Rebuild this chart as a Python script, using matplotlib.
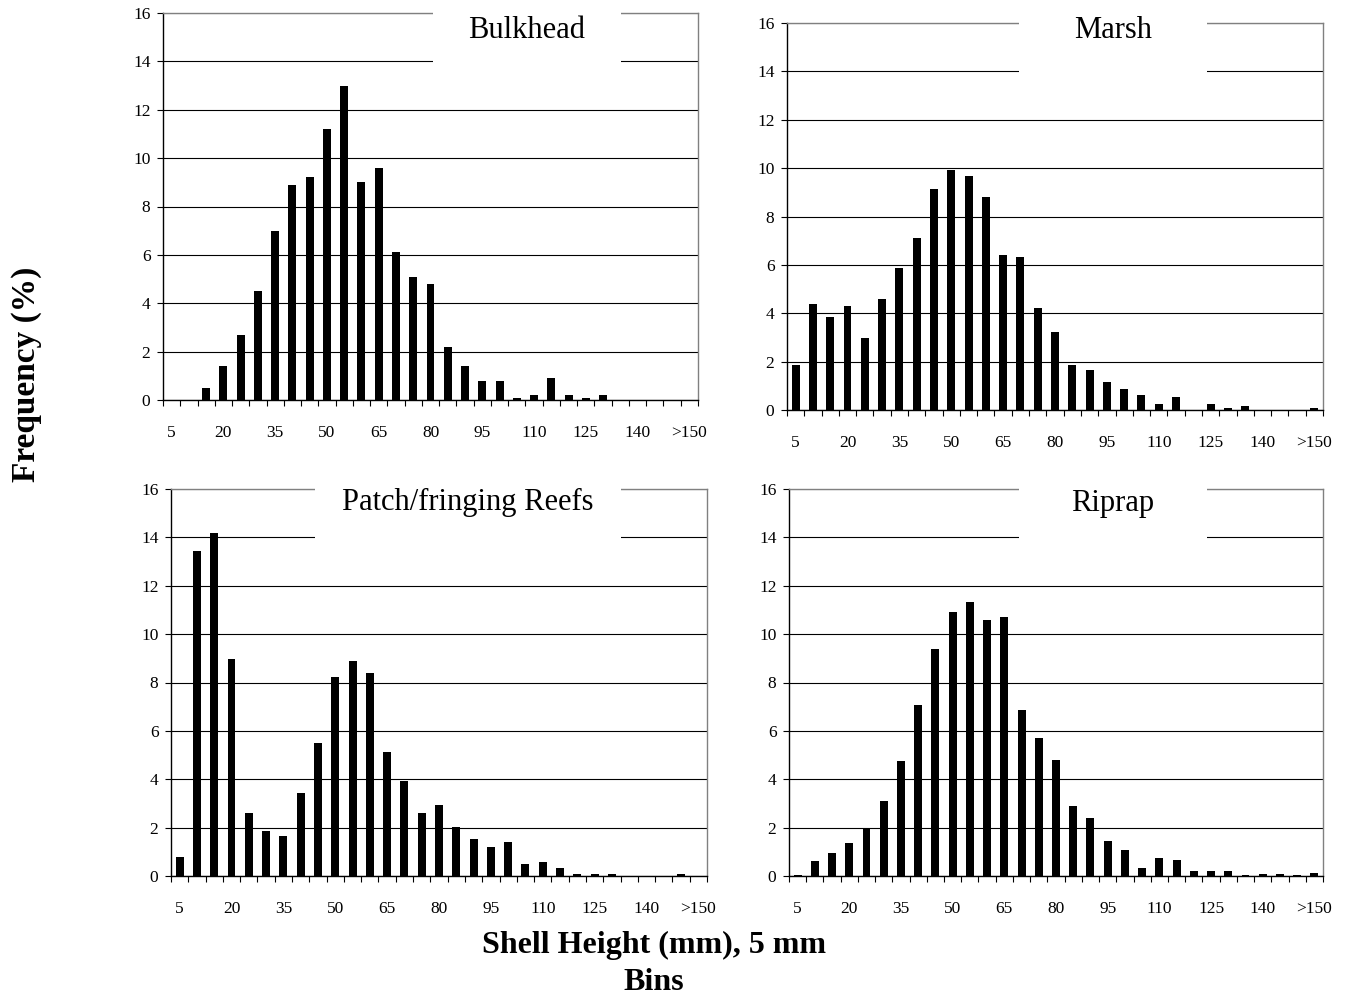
import numpy as np
import matplotlib
matplotlib.use("Agg")
import matplotlib.pyplot as plt
from matplotlib.patches import Rectangle

plt.rcParams["font.family"] = ["Liberation Serif", "DejaVu Serif"]

# 5 mm shell height bins
bins = ["5", "10", "15", "20", "25", "30", "35", "40", "45", "50", "55", "60",
        "65", "70", "75", "80", "85", "90", "95", "100", "105", "110", "115",
        "120", "125", "130", "135", "140", "145", "150", ">150"]
shown_labels = ["5", "20", "35", "50", "65", "80", "95", "110", "125", "140", ">150"]

# frequency (%) per bin
bulkhead = [0, 0, 0.5, 1.4, 2.7, 4.5, 7.0, 8.9, 9.2, 11.2, 13.0, 9.0, 9.6, 6.1,
            5.1, 4.8, 2.2, 1.4, 0.8, 0.8, 0.1, 0.2, 0.9, 0.2, 0.1, 0.2,
            0, 0, 0, 0, 0]
marsh = [1.86, 4.38, 3.83, 4.30, 2.96, 4.60, 5.87, 7.11, 9.15, 9.92, 9.68,
         8.82, 6.40, 6.34, 4.21, 3.21, 1.86, 1.64, 1.17, 0.85, 0.62, 0.23,
         0.54, 0, 0.23, 0.08, 0.15, 0, 0, 0, 0.08]
reefs = [0.77, 13.44, 14.2, 8.97, 2.60, 1.85, 1.65, 3.42, 5.50, 8.21, 8.90,
         8.40, 5.11, 3.93, 2.60, 2.93, 2.02, 1.53, 1.21, 1.40, 0.51, 0.56,
         0.32, 0.08, 0.08, 0.08, 0, 0, 0, 0.08, 0]
riprap = [0.04, 0.62, 0.95, 1.36, 1.96, 3.10, 4.75, 7.05, 9.38, 10.92, 11.31,
          10.58, 10.69, 6.85, 5.70, 4.79, 2.88, 2.40, 1.43, 1.07, 0.33, 0.73,
          0.65, 0.21, 0.21, 0.21, 0.04, 0.08, 0.08, 0.04, 0.11]

W, H = 1348, 998
fig = plt.figure(figsize=(W / 100, H / 100), dpi=100)

# (title, values, axes box in pixels left/right/top/bottom, title box x0/x1 in px, title y px)
panels = [
    ("Bulkhead", bulkhead, (163, 698, 13, 400), (433, 621), 30),
    ("Marsh", marsh, (787, 1323, 23, 410), (1019, 1207), 30),
    ("Patch/fringing Reefs", reefs, (171, 707, 489, 876), (315, 621), 502),
    ("Riprap", riprap, (789, 1323, 489, 876), (1019, 1207), 503),
]

x = np.arange(len(bins))
for title, vals, (l, r, t, b), (bx0, bx1), ty in panels:
    ax = fig.add_axes([l / W, 1 - b / H, (r - l) / W, (b - t) / H])
    ax.bar(x, vals, width=0.46, color="black", zorder=2)
    ax.set_xlim(-0.5, len(bins) - 0.5)
    ax.set_ylim(0, 16)
    ax.set_yticks(np.arange(0, 17, 2))
    ax.set_axisbelow(True)
    ax.yaxis.grid(True, color="black", linewidth=0.8)
    ax.get_ygridlines()[-1].set_color("gray")

    # labels on every third bin, tick marks between bins
    ax.set_xticks([bins.index(s) for s in shown_labels])
    ax.set_xticklabels(shown_labels)
    ax.set_xticks(np.arange(-0.5, len(bins)), minor=True)
    ax.tick_params(axis="x", which="major", length=0, pad=18, labelsize=12.5)
    ax.tick_params(axis="x", which="minor", length=4, width=0.8, direction="out")
    ax.tick_params(axis="y", length=4, width=0.8, pad=5, labelsize=12.5)

    for side in ("left", "bottom"):
        ax.spines[side].set_color("black")
        ax.spines[side].set_linewidth(1.0)
    for side in ("top", "right"):
        ax.spines[side].set_color("gray")
        ax.spines[side].set_linewidth(1.0)

    # white box behind the panel title that hides the top gridlines
    fx0 = (bx0 - l) / (r - l)
    fx1 = (bx1 - l) / (r - l)
    ax.add_patch(Rectangle((fx0, 0.83), fx1 - fx0, 0.2, transform=ax.transAxes,
                           facecolor="white", edgecolor="none", zorder=3,
                           clip_on=False))
    ax.text((fx0 + fx1) / 2, (b - ty) / (b - t), title, transform=ax.transAxes,
            ha="center", va="center", fontsize=22, zorder=4)

fig.text(27 / W, 1 - 374 / H, "Frequency (%)", rotation=90, ha="center",
         va="center", fontsize=24, fontweight="bold")
fig.text(654 / W, 1 - 931 / H, "Shell Height (mm), 5 mm\nBins", ha="center",
         va="top", fontsize=23, fontweight="bold", linespacing=1.38)

fig.savefig("out.png", dpi=100)
